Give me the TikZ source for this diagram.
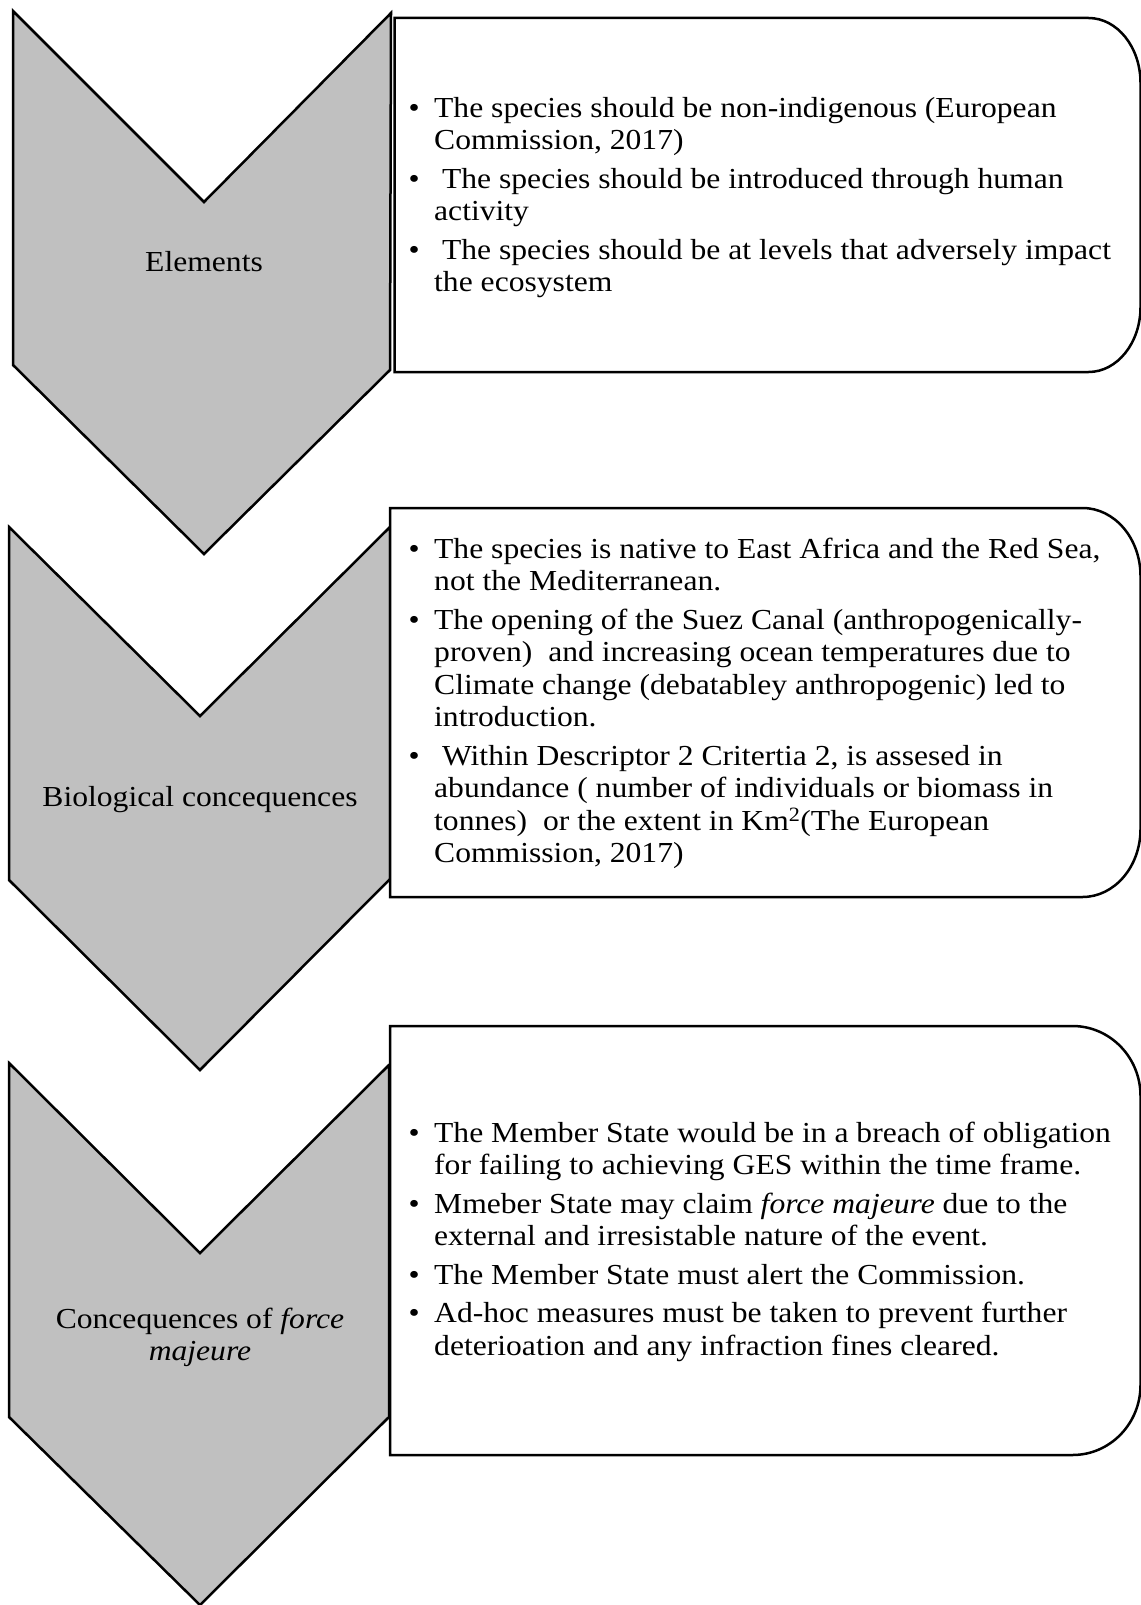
\documentclass[tikz,border=0pt]{standalone}
\usepackage{fontspec}
\setmainfont[FakeStretch=1.09]{Liberation Serif}
\definecolor{chevgray}{RGB}{192,192,192}
\newcommand\bul{\makebox[25.5pt][l]{\textbullet}}
\begin{document}
\begin{tikzpicture}[x=1pt,y=-1pt,
  chev/.style={draw=black, fill=chevgray, line width=2.5pt, line join=miter},
  infobox/.style={draw=black, fill=white, line width=2.5pt},
  lbl/.style={inner sep=0pt, font=\fontsize{29}{32.5}\selectfont},
  ]
\useasboundingbox (0,0) rectangle (1140,1605);

% chevrons
\draw[chev] (13,11) -- (204,202) -- (391,13) -- (390,370) -- (204,554) -- (13,365) -- cycle;
\draw[chev] (9,527) -- (200,716) -- (390,527) -- (390,879) -- (200,1070) -- (9,880) -- cycle;
\draw[chev] (9,1063) -- (200,1253) -- (389,1065) -- (389,1417) -- (200,1605) -- (9,1417) -- cycle;

% text boxes with rounded right corners
\draw[infobox] (394.5,18) -- (1088.5,18)
  arc[start angle=-90, end angle=0, x radius=52, y radius=65] -- (1140.5,307)
  arc[start angle=0, end angle=90, x radius=52, y radius=65] -- (394.5,372) -- cycle;
\draw[infobox] (390,508) -- (1082.5,508)
  arc[start angle=-90, end angle=0, x radius=58, y radius=68] -- (1140.5,829)
  arc[start angle=0, end angle=90, x radius=58, y radius=68] -- (390,897) -- cycle;
\draw[infobox] (390,1026) -- (1072.5,1026)
  arc[start angle=-90, end angle=0, x radius=68, y radius=70] -- (1140.5,1385)
  arc[start angle=0, end angle=90, x radius=68, y radius=70] -- (390,1455) -- cycle;

% chevron labels
\node[lbl, anchor=base] (elements) at (204,271) {Elements};
\node[lbl, anchor=base] (bio) at (200,806) {Biological concequences};
\node[lbl, anchor=north] (fm) at (200,1305.25) {\begin{tabular}{@{}c@{}}
Concequences of \textit{force}\\
\textit{majeure}
\end{tabular}};

% bullet lists
\node[lbl, anchor=north west] (elist) at (408.5,94.25) {\begin{tabular}{@{}l@{}l@{}}
\bul & The species should be non-indigenous (European\\
 & Commission, 2017)\\[6pt]
\bul & \ The species should be introduced through human\\
 & activity\\[6pt]
\bul & \ The species should be at levels that adversely impact\\
 & the ecosystem
\end{tabular}};

\node[lbl, anchor=north west] (blist) at (408.5,535.25) {\begin{tabular}{@{}l@{}l@{}}
\bul & The species is native to East Africa and the Red Sea,\\
 & not the Mediterranean.\\[6pt]
\bul & The opening of the Suez Canal (anthropogenically-\\
 & proven)\ \ and increasing ocean temperatures due to\\
 & Climate change (debatabley anthropogenic) led to\\
 & introduction.\\[6pt]
\bul & \ Within Descriptor 2 Critertia 2, is assesed in\\
 & abundance ( number of individuals or biomass in\\
 & tonnes)\ \ or the extent in Km\textsuperscript{2}(The European\\
 & Commission, 2017)
\end{tabular}};

\node[lbl, anchor=north west] (flist) at (408.5,1119.25) {\begin{tabular}{@{}l@{}l@{}}
\bul & The Member State would be in a breach of obligation\\
 & for failing to achieving GES within the time frame.\\[6pt]
\bul & Mmeber State may claim \textit{force majeure} due to the\\
 & external and irresistable nature of the event.\\[6pt]
\bul & The Member State must alert the Commission.\\[6pt]
\bul & Ad-hoc measures must be taken to prevent further\\
 & deterioation and any infraction fines cleared.
\end{tabular}};
\end{tikzpicture}
\end{document}
